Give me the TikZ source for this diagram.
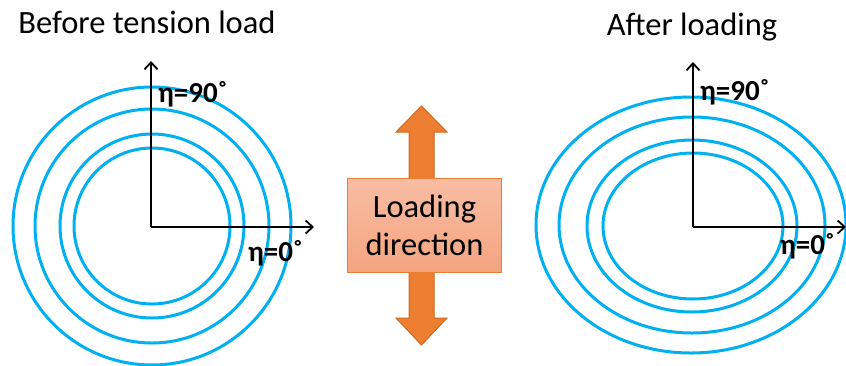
\documentclass[tikz,border=0pt]{standalone}
\usepackage{fontspec}
\setmainfont{Carlito}
\begin{document}
\begin{tikzpicture}[x=1pt,y=-1pt,
  ring/.style={draw=ringblue,line width=3pt},
  axis/.style={draw=black,line width=2pt,-{Straight Barb[length=7pt,width=13pt,line width=1.8pt]}},
  etalab/.style={font=\bfseries\fontsize{29}{32}\selectfont,inner sep=0pt},
  title/.style={font=\fontsize{32.5}{36}\selectfont,inner sep=0pt}]
\usetikzlibrary{arrows.meta}
\definecolor{ringblue}{HTML}{00B0F0}
\definecolor{arroworange}{HTML}{ED7D31}
\definecolor{arrowedge}{HTML}{D0681F}
\definecolor{boxtop}{HTML}{F8BDA3}
\definecolor{boxbot}{HTML}{F4A47F}
\useasboundingbox (0,0) rectangle (846,365);
% titles
\node[title] (t1) at (147,22) {Before tension load};
\node[title] (t2) at (692,27) {After loading};
% left rings
\coordinate (o1) at (151,227);
\draw[ring] (152,226) circle (139);
\draw[ring] (152,226) circle (117);
\draw[ring] (152,226) circle (92);
\draw[ring] (152,226) circle (78);
\coordinate (y1) at (151,61);
\coordinate (x1) at (314,227);
\draw[axis] (o1) -- (y1);
\draw[axis] (o1) -- (x1);
\node[etalab,anchor=west] (l190) at (158,94) {η=90˚};
\node[etalab,anchor=west] (l10) at (248,253) {η=0˚};
% right ellipses
\coordinate (o2) at (693,227);
\draw[ring] (691,225) ellipse (155 and 128);
\draw[ring] (692,225) ellipse (133 and 108);
\draw[ring] (692,226) ellipse (105 and 86);
\draw[ring] (693,226) ellipse (90 and 73);
\coordinate (y2) at (693,62);
\coordinate (x2) at (846,227);
\draw[axis] (o2) -- (y2);
\draw[axis] (o2) -- (x2);
\node[etalab,anchor=west] (l290) at (700,92) {η=90˚};
\node[etalab,anchor=west] (l20) at (780,246) {η=0˚};
% loading arrow
\draw[fill=arroworange,draw=arrowedge,line width=1pt,line join=miter]
  (421.5,106) -- (447,132) -- (434,132) -- (434,318) -- (447,318) -- (421.5,345)
  -- (396,318) -- (409,318) -- (409,132) -- (396,132) -- cycle;
\node[draw=arroworange,line width=1.5pt,top color=boxtop,bottom color=boxbot,
  minimum width=154pt,minimum height=94pt,inner sep=0pt,align=center,
  font=\fontsize{32.5}{38}\selectfont] (box) at (424.5,225.5) {Loading\\direction};
\end{tikzpicture}
\end{document}
